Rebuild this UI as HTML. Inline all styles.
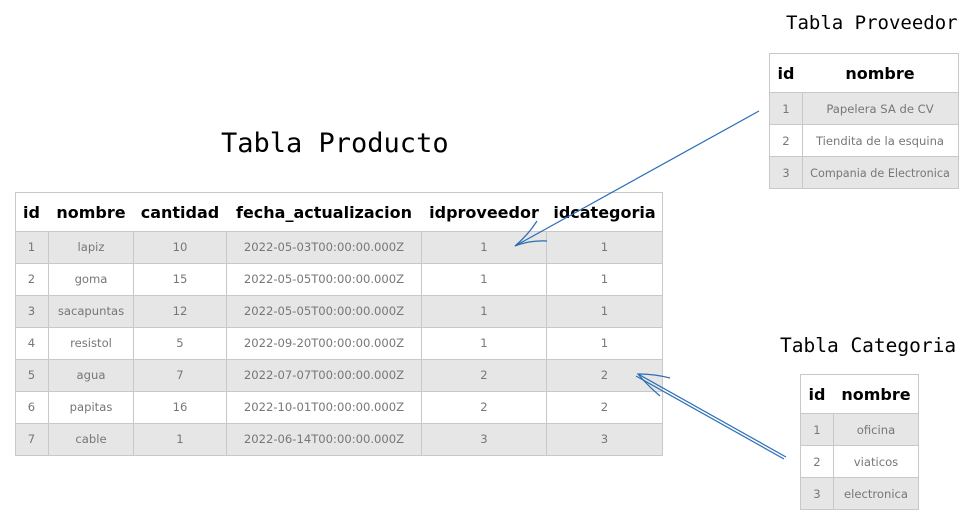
<!DOCTYPE html>
<html><head><meta charset="utf-8"><style>
html,body{margin:0;padding:0;background:#fff;width:976px;height:525px;overflow:hidden}
svg{display:block}
.h{font-family:"DejaVu Sans","Liberation Sans",sans-serif;font-weight:bold;font-size:16px;fill:#000;text-anchor:middle}
.d{font-family:"DejaVu Sans","Liberation Sans",sans-serif;font-size:11.6px;fill:#777;text-anchor:middle}
.t{font-family:"DejaVu Sans Mono","Liberation Mono",monospace;fill:#000}
</style></head><body>
<svg width="976" height="525" xmlns="http://www.w3.org/2000/svg">
<text class="t" x="221" y="152" font-size="27">Tabla Producto</text>
<text class="t" x="786" y="29" font-size="19">Tabla Proveedor</text>
<text class="t" x="780" y="352" font-size="19.5">Tabla Categoria</text>

<!-- Producto -->
<g stroke="#c8c8c8" stroke-width="1">
<rect x="15.5" y="192.5" width="647" height="263" fill="#fff"/>
<rect x="15.5" y="231.5" width="647" height="32" fill="#e6e6e6"/>
<rect x="15.5" y="295.5" width="647" height="32" fill="#e6e6e6"/>
<rect x="15.5" y="359.5" width="647" height="32" fill="#e6e6e6"/>
<rect x="15.5" y="423.5" width="647" height="32" fill="#e6e6e6"/>
<line x1="15" y1="263.5" x2="663" y2="263.5"/><line x1="15" y1="327.5" x2="663" y2="327.5"/><line x1="15" y1="391.5" x2="663" y2="391.5"/>
<line x1="48.5" y1="231" x2="48.5" y2="456"/><line x1="133.5" y1="231" x2="133.5" y2="456"/><line x1="226.5" y1="231" x2="226.5" y2="456"/><line x1="421.5" y1="231" x2="421.5" y2="456"/><line x1="546.5" y1="231" x2="546.5" y2="456"/>
</g>
<text class="h" x="31.5" y="218">id</text><text class="h" x="91" y="218">nombre</text><text class="h" x="180" y="218">cantidad</text><text class="h" x="324" y="218">fecha_actualizacion</text><text class="h" x="484" y="218">idproveedor</text><text class="h" x="604.5" y="218">idcategoria</text>
<g class="d">
<text x="31.5" y="251">1</text><text x="91" y="251">lapiz</text><text x="180" y="251">10</text><text x="324" y="251">2022-05-03T00:00:00.000Z</text><text x="484" y="251">1</text><text x="604.5" y="251">1</text>
<text x="31.5" y="283">2</text><text x="91" y="283">goma</text><text x="180" y="283">15</text><text x="324" y="283">2022-05-05T00:00:00.000Z</text><text x="484" y="283">1</text><text x="604.5" y="283">1</text>
<text x="31.5" y="315">3</text><text x="91" y="315">sacapuntas</text><text x="180" y="315">12</text><text x="324" y="315">2022-05-05T00:00:00.000Z</text><text x="484" y="315">1</text><text x="604.5" y="315">1</text>
<text x="31.5" y="347">4</text><text x="91" y="347">resistol</text><text x="180" y="347">5</text><text x="324" y="347">2022-09-20T00:00:00.000Z</text><text x="484" y="347">1</text><text x="604.5" y="347">1</text>
<text x="31.5" y="379">5</text><text x="91" y="379">agua</text><text x="180" y="379">7</text><text x="324" y="379">2022-07-07T00:00:00.000Z</text><text x="484" y="379">2</text><text x="604.5" y="379">2</text>
<text x="31.5" y="411">6</text><text x="91" y="411">papitas</text><text x="180" y="411">16</text><text x="324" y="411">2022-10-01T00:00:00.000Z</text><text x="484" y="411">2</text><text x="604.5" y="411">2</text>
<text x="31.5" y="443">7</text><text x="91" y="443">cable</text><text x="180" y="443">1</text><text x="324" y="443">2022-06-14T00:00:00.000Z</text><text x="484" y="443">3</text><text x="604.5" y="443">3</text>
</g>

<!-- Proveedor -->
<g stroke="#c8c8c8" stroke-width="1">
<rect x="769.5" y="53.5" width="189" height="135" fill="#fff"/>
<rect x="769.5" y="92.5" width="189" height="32" fill="#e6e6e6"/>
<rect x="769.5" y="156.5" width="189" height="32" fill="#e6e6e6"/>
<line x1="802.5" y1="92" x2="802.5" y2="189"/>
</g>
<text class="h" x="786" y="79">id</text><text class="h" x="880" y="79">nombre</text>
<g class="d">
<text x="786" y="113">1</text><text x="880" y="113">Papelera SA de CV</text>
<text x="786" y="145">2</text><text x="880" y="145">Tiendita de la esquina</text>
<text x="786" y="177" font-size="11.2">3</text><text x="880" y="177" font-size="11.2">Compania de Electronica</text>
</g>

<!-- Categoria -->
<g stroke="#c8c8c8" stroke-width="1">
<rect x="800.5" y="374.5" width="118" height="135" fill="#fff"/>
<rect x="800.5" y="413.5" width="118" height="32" fill="#e6e6e6"/>
<rect x="800.5" y="477.5" width="118" height="32" fill="#e6e6e6"/>
<line x1="833.5" y1="413" x2="833.5" y2="510"/>
</g>
<text class="h" x="817" y="400">id</text><text class="h" x="876" y="400">nombre</text>
<g class="d">
<text x="817" y="434">1</text><text x="876" y="434">oficina</text>
<text x="817" y="466">2</text><text x="876" y="466">viaticos</text>
<text x="817" y="498">3</text><text x="876" y="498">electronica</text>
</g>

<!-- arrows -->
<g stroke="#2a6db5" stroke-width="1.2" fill="none">
<line x1="759" y1="111" x2="515" y2="246"/>
<path d="M537 221 Q528 235 515 246 Q530 240 547 241"/>
<line x1="786" y1="457" x2="638" y2="374"/>
<line x1="784" y1="459" x2="636" y2="376"/>
<path d="M670 378 Q655 374 638 374 Q648 386 660 396"/>
</g>
</svg>
</body></html>
